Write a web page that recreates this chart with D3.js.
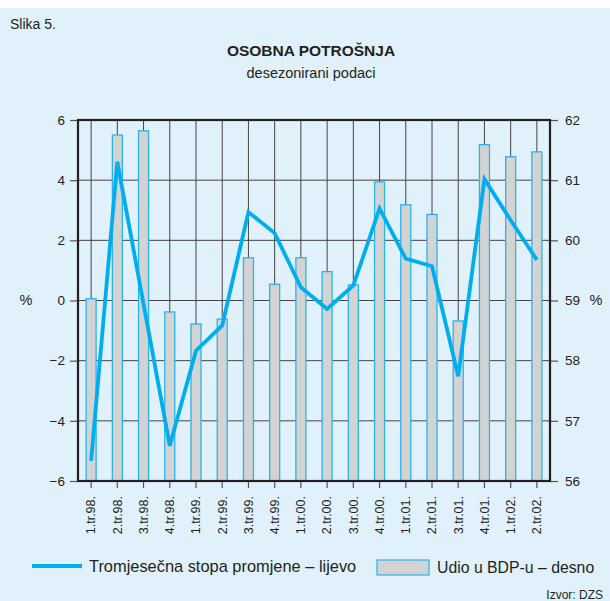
<!DOCTYPE html>
<html>
<head>
<meta charset="utf-8">
<script src="https://cdn.jsdelivr.net/npm/d3@7"></script>
<style>
  body { margin: 0; background: #fff; }
  text { font-family: "Liberation Sans", Arial, sans-serif; fill: #231f20; }
</style>
</head>
<body>
<div id="chart"></div>
<script>
// quarters
const quarters = ["1.tr.98.", "2.tr.98.", "3.tr.98.", "4.tr.98.",
  "1.tr.99.", "2.tr.99.", "3.tr.99.", "4.tr.99.",
  "1.tr.00.", "2.tr.00.", "3.tr.00.", "4.tr.00.",
  "1.tr.01.", "2.tr.01.", "3.tr.01.", "4.tr.01.",
  "1.tr.02.", "2.tr.02."];
// quarterly rate of change, left axis (%)
const rate = [-5.33, 4.61, -0.12, -4.83, -1.67, -0.83, 2.94, 2.24, 0.44,
  -0.28, 0.5, 3.06, 1.39, 1.14, -2.52, 4.03, 2.67, 1.35];
// share in GDP, right axis (%)
const share = [59.03, 61.75, 61.82, 58.81, 58.61, 58.69, 59.71, 59.27, 59.71,
  59.48, 59.26, 60.97, 60.59, 60.43, 58.66, 61.59, 61.39, 61.47];
const leftTicks = [-6, -4, -2, 0, 2, 4, 6];
const rightTicks = [56, 57, 58, 59, 60, 61, 62];

const W = 610, H = 601;
const pL = 78, pR = 550, pT = 120, pB = 481;

const svg = d3.select("#chart").append("svg")
  .attr("width", W).attr("height", H);

// light blue panel
svg.append("rect")
  .attr("x", 0).attr("y", 8).attr("width", W).attr("height", H - 8)
  .attr("fill", "#e0f1fb");

// titles
svg.append("text").attr("x", 10).attr("y", 29)
  .style("font-size", "14px").text("Slika 5.");
svg.append("text").attr("x", 311).attr("y", 56)
  .attr("text-anchor", "middle")
  .style("font-size", "15.5px").style("font-weight", "bold")
  .text("OSOBNA POTROŠNJA");
svg.append("text").attr("x", 311).attr("y", 78)
  .attr("text-anchor", "middle")
  .style("font-size", "14.5px")
  .text("desezonirani podaci");

const x = d3.scaleBand().domain(quarters).range([pL, pR]);
const yL = d3.scaleLinear().domain([-6, 6]).range([pB, pT]);
const yR = d3.scaleLinear().domain([56, 62]).range([pB, pT]);
const cx = d => x(d) + x.bandwidth() / 2;

// grid
svg.append("g").selectAll("line").data(leftTicks).join("line")
  .attr("x1", pL).attr("x2", pR)
  .attr("y1", d => yL(d)).attr("y2", d => yL(d))
  .attr("stroke", "#444").attr("stroke-width", 1);
svg.append("g").selectAll("line").data(quarters).join("line")
  .attr("x1", cx).attr("x2", cx)
  .attr("y1", pT).attr("y2", pB)
  .attr("stroke", "#444").attr("stroke-width", 1);

// bars (right axis)
const bw = 10;
svg.append("g").selectAll("rect").data(share).join("rect")
  .attr("x", (d, i) => cx(quarters[i]) - bw / 2)
  .attr("y", d => yR(d))
  .attr("width", bw)
  .attr("height", d => pB - yR(d))
  .attr("fill", "#d3d3d3")
  .attr("stroke", "#2ab4ea")
  .attr("stroke-width", 1.3);

// line (left axis)
const line = d3.line()
  .x((d, i) => cx(quarters[i]))
  .y(d => yL(d));
svg.append("path").datum(rate)
  .attr("d", line)
  .attr("fill", "none")
  .attr("stroke", "#00aeef")
  .attr("stroke-width", 3.8);

// axes
const axL = svg.append("g").attr("transform", `translate(${pL},0)`)
  .call(d3.axisLeft(yL).tickValues(leftTicks).tickSize(8).tickPadding(5));
const axR = svg.append("g").attr("transform", `translate(${pR},0)`)
  .call(d3.axisRight(yR).tickValues(rightTicks).tickFormat(d3.format("d"))
    .tickSize(8).tickPadding(7));
const axB = svg.append("g").attr("transform", `translate(0,${pB})`)
  .call(d3.axisBottom(x).tickSize(7).tickPadding(4));
[axL, axR, axB].forEach(a => {
  a.select(".domain").remove();
  a.selectAll("line").attr("stroke", "#555").attr("stroke-width", 1.2);
  a.selectAll("text").style("font-size", "13.5px").attr("fill", "#231f20")
    .style("font-family", "'Liberation Sans', Arial, sans-serif");
});
axB.selectAll("text")
  .style("font-size", "12.5px")
  .attr("text-anchor", "end")
  .attr("transform", "rotate(-90)")
  .attr("x", -15).attr("y", 0).attr("dy", "0.35em");

// frame
svg.append("rect")
  .attr("x", pL).attr("y", pT)
  .attr("width", pR - pL).attr("height", pB - pT)
  .attr("fill", "none").attr("stroke", "#231f20").attr("stroke-width", 2.2);

// % labels
svg.append("text").attr("x", 26).attr("y", 305)
  .attr("text-anchor", "middle").style("font-size", "14.5px").text("%");
svg.append("text").attr("x", 596).attr("y", 305)
  .attr("text-anchor", "middle").style("font-size", "14.5px").text("%");

// legend
const lg = svg.append("g");
lg.append("line").attr("x1", 32).attr("x2", 82).attr("y1", 566).attr("y2", 566)
  .attr("stroke", "#00aeef").attr("stroke-width", 3.8);
lg.append("text").attr("x", 89).attr("y", 572)
  .style("font-size", "16.4px").text("Tromjesečna stopa promjene – lijevo");
lg.append("rect").attr("x", 377).attr("y", 560).attr("width", 52).attr("height", 15)
  .attr("fill", "#d3d3d3").attr("stroke", "#2ab4ea").attr("stroke-width", 1.2);
lg.append("text").attr("x", 437).attr("y", 573)
  .style("font-size", "15.8px").text("Udio u BDP-u – desno");

svg.append("text").attr("x", 603).attr("y", 599)
  .attr("text-anchor", "end").style("font-size", "12px").text("Izvor: DZS");
</script>
</body>
</html>
